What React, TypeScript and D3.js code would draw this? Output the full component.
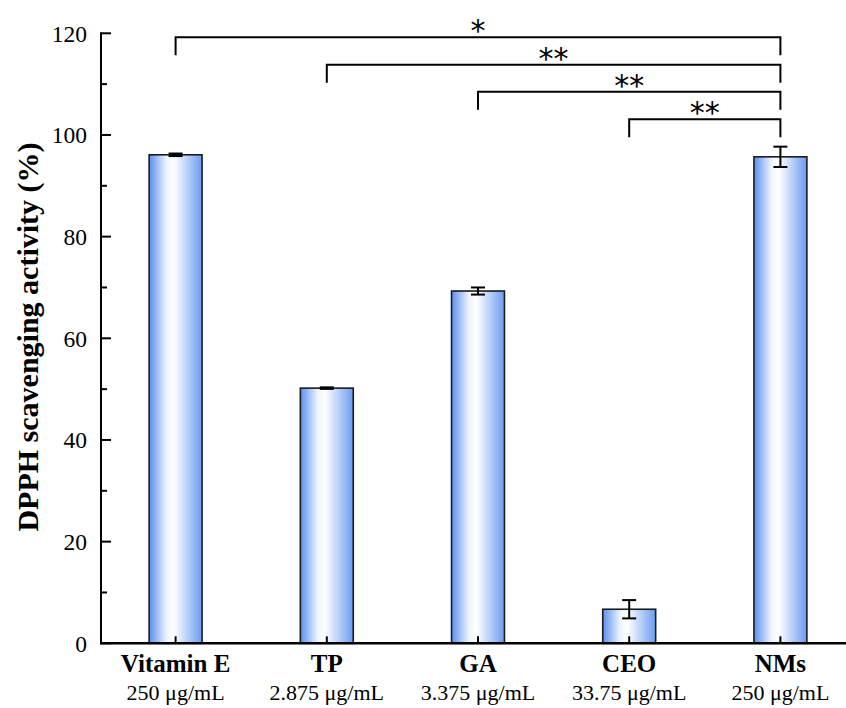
import React from "react";
import * as d3 from "d3";

const categories = ["Vitamin E", "TP", "GA", "CEO", "NMs"];
const concentrations = ["250 μg/mL", "2.875 μg/mL", "3.375 μg/mL", "33.75 μg/mL", "250 μg/mL"];
const values = [96.1, 50.2, 69.3, 6.7, 95.7];
const errors = [0.25, 0.15, 0.7, 1.8, 2.0];
const yTicks = [0, 20, 40, 60, 80, 100, 120];
const yMinorTicks = [10, 30, 50, 70, 90, 110];
// significance brackets: [fromIndex, toIndex, level, label]
const bracketFrom = [0, 1, 2, 3];
const bracketTo = [4, 4, 4, 4];
const bracketLevel = [119.2, 113.8, 108.5, 103.1];
const bracketLabel = ["*", "**", "**", "**"];

const W = 846;
const H = 708;

export default function App() {
  const x = d3
    .scaleBand<string>()
    .domain(categories)
    .range([100, 856])
    .paddingInner(0.65)
    .paddingOuter(0.325);
  const y = d3.scaleLinear().domain([0, 120]).range([643.3, 33.3]);
  const axisX = 101;
  const y0 = y(0);
  const legPx = 18;
  const serif = "'Liberation Serif', 'Times New Roman', serif";

  return (
    <svg
      width={W}
      height={H}
      style={{ position: "absolute", left: 0, top: 0, background: "#fff" }}
      fontFamily={serif}
    >
      <defs>
        <linearGradient id="barGrad" x1="0" x2="1" y1="0" y2="0">
          <stop offset="0%" stopColor="#5a8ff0" />
          <stop offset="33%" stopColor="#eef4ff" />
          <stop offset="47%" stopColor="#ffffff" />
          <stop offset="100%" stopColor="#6b9bf1" />
        </linearGradient>
      </defs>

      {/* bars */}
      {categories.map((c, i) => (
        <rect
          key={c}
          x={x(c)!}
          y={y(values[i])}
          width={x.bandwidth()}
          height={y0 - y(values[i])}
          fill="url(#barGrad)"
          stroke="#1b1b1b"
          strokeWidth={1.6}
        />
      ))}

      {/* error bars */}
      {categories.map((c, i) => {
        const cx = x(c)! + x.bandwidth() / 2;
        const top = y(values[i] + errors[i]);
        const bot = y(values[i] - errors[i]);
        return (
          <g key={"e" + c} stroke="#000" strokeWidth={2}>
            <line x1={cx} x2={cx} y1={top} y2={bot} />
            <line x1={cx - 7} x2={cx + 7} y1={top} y2={top} />
            <line x1={cx - 7} x2={cx + 7} y1={bot} y2={bot} />
          </g>
        );
      })}

      {/* y axis */}
      <line x1={axisX} x2={axisX} y1={y(120) - 1} y2={y0 + 1} stroke="#000" strokeWidth={2} />
      {yTicks.map((t) => (
        <g key={"yt" + t}>
          <line x1={axisX} x2={axisX + 10} y1={y(t)} y2={y(t)} stroke="#000" strokeWidth={2} />
          <text x={87} y={y(t)} dy="0.35em" textAnchor="end" fontSize={23.5} fill="#000">
            {t}
          </text>
        </g>
      ))}
      {yMinorTicks.map((t) => (
        <line key={"ym" + t} x1={axisX} x2={axisX + 6} y1={y(t)} y2={y(t)} stroke="#000" strokeWidth={2} />
      ))}

      {/* x axis */}
      <line x1={axisX - 1} x2={W} y1={y0} y2={y0} stroke="#000" strokeWidth={2.4} />
      {categories.map((c, i) => {
        const cx = x(c)! + x.bandwidth() / 2;
        return (
          <g key={"xt" + c}>
            <line x1={cx} x2={cx} y1={y0} y2={y0 - 7} stroke="#000" strokeWidth={2} />
            <text x={cx} y={671.5} textAnchor="middle" fontSize={25} fontWeight="bold" fill="#000">
              {c}
            </text>
            <text x={cx} y={700} textAnchor="middle" fontSize={22} fill="#000">
              {concentrations[i]}
            </text>
          </g>
        );
      })}

      {/* y title */}
      <text
        transform={`translate(37.5, 337) rotate(-90)`}
        textAnchor="middle"
        fontSize={30}
        fontWeight="bold"
        fill="#000"
      >
        DPPH scavenging activity (%)
      </text>

      {/* significance brackets */}
      {bracketFrom.map((f, i) => {
        const xa = x(categories[f])! + x.bandwidth() / 2;
        const xb = x(categories[bracketTo[i]])! + x.bandwidth() / 2;
        const ly = y(bracketLevel[i]);
        return (
          <g key={"b" + i}>
            <path
              d={`M${xa},${ly + legPx} V${ly} H${xb} V${ly + legPx}`}
              fill="none"
              stroke="#000"
              strokeWidth={2}
            />
            <text
              x={(xa + xb) / 2}
              y={ly + 4}
              textAnchor="middle"
              fontSize={30}
              fontFamily="'DejaVu Sans', sans-serif"
              fill="#000"
            >
              {bracketLabel[i]}
            </text>
          </g>
        );
      })}
    </svg>
  );
}
